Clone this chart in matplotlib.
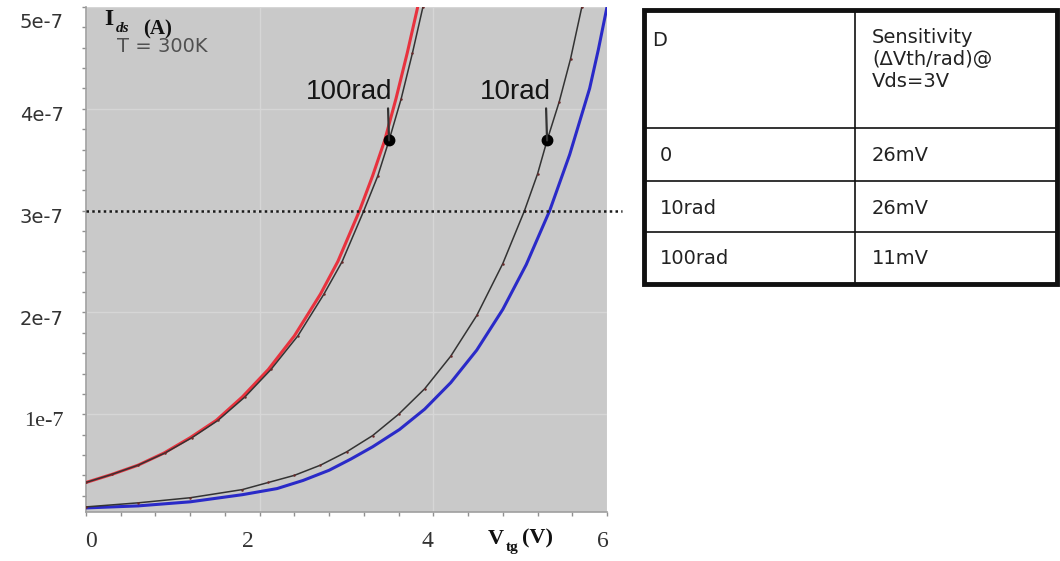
import matplotlib
matplotlib.use("Agg")
import matplotlib.pyplot as plt
from matplotlib.transforms import blended_transform_factory, ScaledTranslation
from matplotlib.patches import Rectangle

# ---------------- data (Ids in units of 1e-7 A) ----------------
UNIT = 1e-7

vtg_red = [0.0, 0.3, 0.6, 0.9, 1.2, 1.5, 1.8, 2.1, 2.4, 2.7, 2.9, 3.15, 3.3, 3.44, 3.57, 3.7, 3.82]
ids_red = [0.33, 0.41, 0.50, 0.62, 0.77, 0.94, 1.17, 1.44, 1.77, 2.18, 2.50, 3.00, 3.34, 3.69, 4.10, 4.55, 5.00]

vtg_100rad = [0.0, 0.3, 0.6, 0.91, 1.22, 1.52, 1.83, 2.13, 2.44, 2.74, 2.95, 3.2, 3.36, 3.49, 3.63, 3.76, 3.88]
ids_100rad = [0.33, 0.41, 0.50, 0.62, 0.77, 0.94, 1.17, 1.44, 1.77, 2.18, 2.50, 3.00, 3.34, 3.69, 4.10, 4.55, 5.00]

vtg_10rad = [0.0, 0.6, 1.2, 1.8, 2.1, 2.4, 2.7, 3.0, 3.3, 3.6, 3.9, 4.2, 4.5, 4.8, 5.05, 5.2,
             5.31, 5.45, 5.58, 5.71]
ids_10rad = [0.09, 0.13, 0.18, 0.26, 0.33, 0.40, 0.50, 0.63, 0.79, 1.00, 1.25, 1.57, 1.97, 2.48, 3.00, 3.36,
             3.69, 4.07, 4.49, 5.00]

vtg_blue = [0.0, 0.6, 1.2, 1.8, 2.2, 2.5, 2.8, 3.05, 3.3, 3.61, 3.9, 4.2, 4.5, 4.8, 5.07,
            5.34, 5.57, 5.8, 5.9, 6.0]
ids_blue = [0.08, 0.10, 0.14, 0.21, 0.27, 0.35, 0.45, 0.56, 0.68, 0.85, 1.05, 1.31, 1.63, 2.03, 2.47,
            3.00, 3.55, 4.20, 4.58, 5.00]

marker_labels = ["100rad", "10rad"]
marker_vtg = [3.49, 5.31]
marker_ids = [3.69, 3.69]

ref_level = 3.0  # dotted reference line (x 1e-7 A)

x_ticks = [0, 2, 4, 6]
y_ticks = [1, 2, 3, 4, 5]
y_tick_labels = ["1e-7", "2e-7", "3e-7", "4e-7", "5e-7"]

table_header = ["D", "Sensitivity\n(\u0394Vth/rad)@\nVds=3V"]
table_dose = ["0", "10rad", "100rad"]
table_sens = ["26mV", "26mV", "11mV"]

# ---------------- figure ----------------
W, H = 1060, 561
fig = plt.figure(figsize=(W / 100, H / 100), dpi=100)
fig.patch.set_facecolor("white")

ax = fig.add_axes([86 / W, 1 - 512 / H, (607 - 86) / W, (512 - 7) / H])
ax.set_facecolor("#c9c9c9")
ax.set_xlim(0, 6)
ax.set_ylim(0.04 * UNIT, 5.0 * UNIT)

ax.grid(True, which="major", color="#d6d6d6", lw=1.0)
ax.set_axisbelow(True)


def sc(v):
    return [u * UNIT for u in v]


ax.plot(vtg_red, sc(ids_red), color="#e8323e", lw=2.2, zorder=3)
ax.plot(vtg_blue, sc(ids_blue), color="#2a2ac8", lw=2.2, zorder=3)
ax.plot(vtg_100rad, sc(ids_100rad), color="#333333", lw=1.1, zorder=4,
        marker="o", ms=1.8, mfc="#6a2a2a", mec="none")
ax.plot(vtg_10rad, sc(ids_10rad), color="#333333", lw=1.1, zorder=4,
        marker="o", ms=1.8, mfc="#6a2a2a", mec="none")

# dotted reference line extending past the axes
tr = blended_transform_factory(ax.transAxes, ax.transData)
ax.plot([0, 1.029], [ref_level * UNIT] * 2, transform=tr, clip_on=False,
        color="#1a1a1a", lw=1.8, ls=(0, (1, 1.3)), zorder=5)

# markers and labels
offsets = [(-40, 48), (-32, 48)]
for lab, xv, yv, off in zip(marker_labels, marker_vtg, marker_ids, offsets):
    ax.plot([xv], [yv * UNIT], "o", color="#000000", ms=7.5, zorder=6)
    ax.annotate("", xy=(xv, yv * UNIT), xytext=(-1, 32), textcoords="offset pixels",
                arrowprops=dict(arrowstyle="-", lw=1.6, color="#333333",
                                shrinkA=0, shrinkB=0), zorder=6)
    ax.annotate(lab, xy=(xv, yv * UNIT), xytext=off, textcoords="offset pixels",
                ha="center", va="center", fontsize=20, color="#151515",
                family="Liberation Sans", zorder=6)

# ticks
ax.set_xticks(x_ticks)
ax.set_xticklabels([str(t) for t in x_ticks], family="Liberation Serif",
                   fontsize=17, color="#333333")
ax.set_xticks([i * 0.4 for i in range(16)], minor=True)
ax.set_yticks([t * UNIT for t in y_ticks])
ax.set_yticklabels(y_tick_labels, family="DejaVu Sans", fontsize=14, color="#333333")
ax.set_yticks([i * 0.2 * UNIT for i in range(1, 26)], minor=True)
ax.tick_params(axis="both", which="both", direction="out", color="#909090",
               length=3, width=1)
ax.tick_params(axis="y", which="major", pad=13)
ax.tick_params(axis="x", which="major", pad=11)

# small hand-placement offsets of the tick labels (pixels)
x_label_dx = [5, -12, -6, -4]
for lbl, dx in zip(ax.get_xticklabels(), x_label_dx):
    lbl.set_transform(lbl.get_transform() + ScaledTranslation(dx / 100, 0, fig.dpi_scale_trans))
for lbl in ax.get_yticklabels():
    dy = -5
    if lbl.get_text() == "1e-7":
        lbl.set_family("Liberation Serif")
        lbl.set_fontsize(16)
    if lbl.get_text() == "5e-7":
        dy = -14
    lbl.set_transform(lbl.get_transform() + ScaledTranslation(0, dy / 100, fig.dpi_scale_trans))

for s in ["top", "right"]:
    ax.spines[s].set_visible(False)
for s in ["left", "bottom"]:
    ax.spines[s].set_color("#a0a0a0")
    ax.spines[s].set_linewidth(1.2)

# ---------------- overlay in pixel coordinates ----------------
ov = fig.add_axes([0, 0, 1, 1])
ov.set_xlim(0, W)
ov.set_ylim(H, 0)
ov.axis("off")

ov.text(117, 46, "T = 300K", fontsize=14, color="#505050", family="DejaVu Sans",
        ha="left", va="center")
ov.text(104, 19, "I", fontsize=17, weight="bold", family="Liberation Serif",
        ha="left", va="center", color="#111111")
ov.text(116, 28, "ds", fontsize=11, weight="bold", style="italic",
        family="Liberation Serif", ha="left", va="center", color="#111111")
ov.text(143, 29, "(A)", fontsize=15, weight="bold", family="Liberation Serif",
        ha="left", va="center", color="#111111")

ov.text(488, 539, "V", fontsize=16, weight="bold", family="Liberation Serif",
        ha="left", va="center", color="#111111")
ov.text(506, 548, "tg", fontsize=11, weight="bold", family="Liberation Serif",
        ha="left", va="center", color="#111111")
ov.text(522, 538, "(V)", fontsize=16, weight="bold", family="Liberation Serif",
        ha="left", va="center", color="#111111")

# table
tl, tt, tr_, tb = 644, 10, 1057, 284
colx = 855
rows_y = [128, 181, 232]
ov.add_patch(Rectangle((tl, tt), tr_ - tl, tb - tt, fill=False, lw=3.5, ec="#111111"))
ov.plot([colx, colx], [tt, tb], color="#111111", lw=1.2)
for yy in rows_y:
    ov.plot([tl, tr_], [yy, yy], color="#111111", lw=1.2)

tfont = dict(fontsize=14, color="#222222", family="DejaVu Sans", va="center", ha="left")
ov.text(652, 40, table_header[0], **tfont)
ov.text(872, 59, table_header[1], linespacing=1.2, **tfont)
row_centers = [155, 208, 258]
for d, s, yc in zip(table_dose, table_sens, row_centers):
    ov.text(660, yc, d, **tfont)
    ov.text(872, yc, s, **tfont)

fig.savefig("out.png", dpi=100)
